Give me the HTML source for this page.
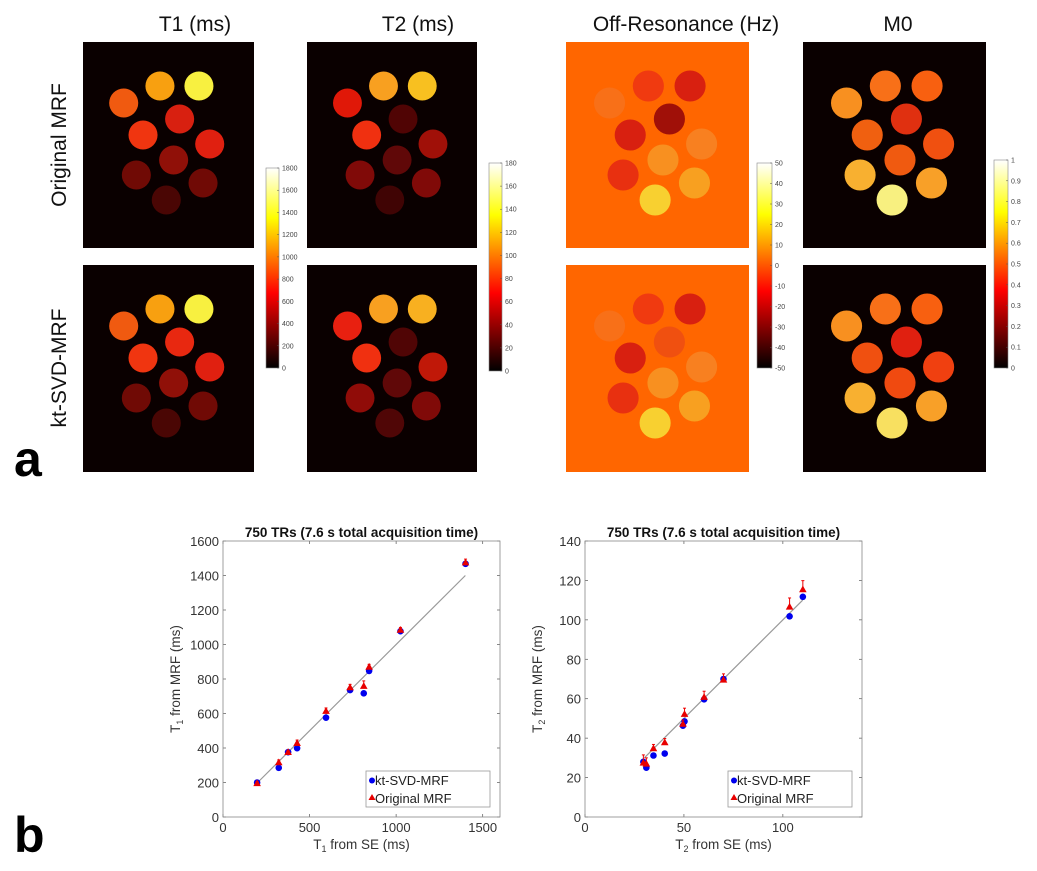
<!DOCTYPE html>
<html><head><meta charset="utf-8"><style>
body{margin:0;background:#fff;}
svg{display:block;font-family:"Liberation Sans",sans-serif;}
</style></head><body>
<svg id="fig" width="1037" height="871" viewBox="0 0 1037 871" xmlns="http://www.w3.org/2000/svg">
<defs>
<linearGradient id="hot" x1="0" y1="1" x2="0" y2="0">
<stop offset="0" stop-color="#000"/><stop offset="0.375" stop-color="#ff0000"/><stop offset="0.75" stop-color="#ffff00"/><stop offset="1" stop-color="#fff"/>
</linearGradient>
</defs>
<g font-size="21" fill="#111" text-anchor="middle">
<text x="195" y="31">T1 (ms)</text>
<text x="418" y="31">T2 (ms)</text>
<text x="686" y="31">Off-Resonance (Hz)</text>
<text x="898" y="31">M0</text>
<text transform="translate(66,145) rotate(-90)">Original MRF</text>
<text transform="translate(66,368) rotate(-90)">kt-SVD-MRF</text>
</g>
<text x="14" y="476" font-size="50" font-weight="bold" fill="#000">a</text>
<text x="14" y="852" font-size="50" font-weight="bold" fill="#000">b</text>
<g id="maps"></g>
<g id="plots"></g>
</svg>
<script>
// ---- parametric maps (phantom vials) ----
const vialFx=[.238,.45,.678,.565,.351,.741,.53,.312,.702,.487];
const vialFy=[61,44,44,77,93,102,118,133,141,158];
const t1Top=["#f05a10","#f8a010","#f8f040","#d82010","#f03510","#e02010","#901008","#700a05","#700a05","#4a0604"];
const t1Bot=["#f05a10","#f8a010","#f8f040","#e82810","#f03510","#e02010","#901008","#700a05","#700a05","#4a0604"];
const t2Top=["#e01808","#f8a020","#f8c020","#500404","#f03010","#a01008","#600808","#800a08","#800a08","#400404"];
const t2Bot=["#e82010","#f8a020","#f8b020","#500505","#f03010","#c01808","#600808","#900c08","#800a08","#500606"];
const offTop=["#f87018","#f03a10","#d82010","#a01008","#d82010","#f88020","#f89020","#e83010","#f8a020","#f8d030"];
const offBot=["#f87018","#f03a10","#d82010","#f05010","#d82010","#f88020","#f89020","#e83010","#f8a020","#f8d030"];
const m0Top=["#f89020","#f87018","#f86010","#e03010","#f06010","#f05010","#f05a10","#f8b030","#f8a028","#f8f080"];
const m0Bot=["#f89020","#f87018","#f86010","#e02010","#f05010","#f04010","#f04a10","#f8b030","#f8a028","#f8e060"];
const NS="http://www.w3.org/2000/svg";
function mk(tag,attrs,parent){const e=document.createElementNS(NS,tag);for(const k in attrs)e.setAttribute(k,attrs[k]);parent.appendChild(e);return e;}
const maps=document.getElementById('maps');
const panels=[
 {x:83,w:171,bg:"#0a0000",top:t1Top,bot:t1Bot,n:"t1"},
 {x:307,w:170,bg:"#0a0000",top:t2Top,bot:t2Bot,n:"t2"},
 {x:566,w:183,bg:"#ff6600",top:offTop,bot:offBot,n:"off-resonance"},
 {x:803,w:183,bg:"#0a0000",top:m0Top,bot:m0Bot,n:"m0"}];
const rows=[{y:42,h:206,k:"top",n:"original"},{y:265,h:207,k:"bot",n:"ktsvd"}];
panels.forEach(p=>{rows.forEach(r=>{
  const g=mk('g',{},maps);
  
  
  mk('rect',{x:p.x,y:r.y,width:p.w,height:r.h,fill:p.bg},g);
  const cols=p[r.k];
  vialFx.forEach((fx,i)=>{
    const c=mk('circle',{cx:p.x+fx*p.w,cy:r.y+vialFy[i],r:0.085*p.w,fill:cols[i]},g);
    
    
  });
});});
// colorbars
const t1Ticks=["0","200","400","600","800","1000","1200","1400","1600","1800"];
const t2Ticks=["0","20","40","60","80","100","120","140","160","180"];
const offTicks=["-50","-40","-30","-20","-10","0","10","20","30","40","50"];
const m0Ticks=["0","0.1","0.2","0.3","0.4","0.5","0.6","0.7","0.8","0.9","1"];
const bars=[{x:266,y:168,w:13,h:200,t:t1Ticks,n:"t1"},{x:489,y:163,w:13,h:208,t:t2Ticks,n:"t2"},{x:757,y:163,w:15,h:205,t:offTicks,n:"off-resonance"},{x:994,y:160,w:14,h:208,t:m0Ticks,n:"m0"}];
bars.forEach(b=>{
  const g=mk('g',{},maps);
  
  
  mk('rect',{x:b.x,y:b.y,width:b.w,height:b.h,fill:"url(#hot)",stroke:"#888","stroke-width":0.6},g);
  const n=b.t.length-1;
  b.t.forEach((lab,i)=>{
    const yy=b.y+b.h-(b.h*i/n);
    mk('line',{x1:b.x+b.w-2,x2:b.x+b.w,y1:yy,y2:yy,stroke:"#555","stroke-width":0.5},g);
    const tx=mk('text',{x:b.x+b.w+3,y:yy+2.5,"font-size":7,fill:"#444"},g);
    tx.textContent=lab;
  });
});

// ---- scatter plots ----
const t1SE=[197,322,376,428,595,734,813,844,1025,1401];
const t1Kt=[200,285,376,399,576,736,717,847,1077,1468];
const t1Orig=[195,316,376,428,614,751,759,870,1084,1475];
const t1Err=[10,15,10,18,18,18,30,15,15,20];
const t1XTicks=[0,500,1000,1500];
const t1YTicks=[0,200,400,600,800,1000,1200,1400,1600];
const t2SE=[29.5,31,34.6,40.3,49.5,50.3,60.2,70,103.4,110.1];
const t2Kt=[28,25,31.2,32.2,46.3,48.5,59.7,70,101.8,111.7];
const t2Orig=[27.5,27,34.8,37.8,47.2,52.2,60.8,69.6,106.6,115.4];
const t2Err=[4,3,2,2,2,3,3,3,4.5,4.5];
const t2XTicks=[0,50,100];
const t2YTicks=[0,20,40,60,80,100,120,140];
const plotsG=document.getElementById('plots');
function scatter(o){
  const g=mk('g',{},plotsG);
  
  
  const L=o.x0,T=541,W=277,H=276;
  const sx=v=>L+v/o.xmax*W, sy=v=>T+H-v/o.ymax*H;
  o.xt.forEach(v=>{
    mk('line',{x1:sx(v),x2:sx(v),y1:T+H,y2:T+H-3,stroke:"#555","stroke-width":0.7},g);
    mk('line',{x1:sx(v),x2:sx(v),y1:T,y2:T+3,stroke:"#555","stroke-width":0.7},g);
    const t=mk('text',{x:sx(v),y:T+H+15,"font-size":13,fill:"#333","text-anchor":"middle"},g);t.textContent=v;
  });
  o.yt.forEach(v=>{
    mk('line',{x1:L,x2:L+3,y1:sy(v),y2:sy(v),stroke:"#555","stroke-width":0.7},g);
    mk('line',{x1:L+W,x2:L+W-3,y1:sy(v),y2:sy(v),stroke:"#555","stroke-width":0.7},g);
    const t=mk('text',{x:L-4,y:sy(v)+5,"font-size":13,fill:"#333","text-anchor":"end"},g);t.textContent=v;
  });
  mk('rect',{x:L,y:T,width:W,height:H,fill:"none",stroke:"#888","stroke-width":0.8},g);
  const ln=mk('line',{x1:sx(o.l0),y1:sy(o.l0),x2:sx(o.l1),y2:sy(o.l1),stroke:"#999","stroke-width":1.2},g);
  
  
  o.se.forEach((xv,i)=>{
    const c=mk('circle',{cx:sx(xv),cy:sy(o.kt[i]),r:3.3,fill:"#0000ee"},g);
    
    
  });
  o.se.forEach((xv,i)=>{
    const X=sx(xv),Y=sy(o.orig[i]),Ye=sy(o.orig[i]+o.err[i]);
    mk('line',{x1:X,x2:X,y1:Y,y2:Ye,stroke:"#e00","stroke-width":1},g);
    mk('line',{x1:X-1.5,x2:X+1.5,y1:Ye,y2:Ye,stroke:"#e00","stroke-width":1},g);
    const p=mk('path',{d:`M${X},${Y-4}L${X+3.8},${Y+2.8}L${X-3.8},${Y+2.8}Z`,fill:"#e80000"},g);
    
    
  });
  const tt=mk('text',{x:L+W/2,y:T-4,"font-size":13.5,"font-weight":"bold",fill:"#111","text-anchor":"middle"},g);
  tt.textContent="750 TRs (7.6 s total acquisition time)";
  
  
  const xl=mk('text',{x:L+W/2,y:T+H+32,"font-size":13.5,fill:"#333","text-anchor":"middle"},g);
  xl.innerHTML=`T<tspan font-size="9" dy="3">${o.s}</tspan><tspan dy="-3"> from SE (ms)</tspan>`;
  
  
  const yl=mk('text',{transform:`translate(${L-43},${T+H/2}) rotate(-90)`,"font-size":13.5,fill:"#333","text-anchor":"middle"},g);
  yl.innerHTML=`T<tspan font-size="9" dy="3">${o.s}</tspan><tspan dy="-3"> from MRF (ms)</tspan>`;
  
  
  const lg=mk('g',{},g);
  
  
  const bx=L+o.lgx;
  mk('rect',{x:bx,y:771,width:124,height:36,fill:"#fff",stroke:"#999","stroke-width":0.8},lg);
  mk('circle',{cx:bx+6,cy:780.5,r:3,fill:"#0000ee"},lg);
  const a=mk('text',{x:bx+9,y:785,"font-size":13,fill:"#222"},lg);a.textContent="kt-SVD-MRF";
  mk('path',{d:`M${bx+6},${794}L${bx+9.5},${800}L${bx+2.5},${800}Z`,fill:"#e80000"},lg);
  const b=mk('text',{x:bx+9,y:803,"font-size":13,fill:"#222"},lg);b.textContent="Original MRF";
}
scatter({n:"t1",x0:223,xmax:1600,ymax:1600,xt:t1XTicks,yt:t1YTicks,se:t1SE,kt:t1Kt,orig:t1Orig,err:t1Err,l0:200,l1:1400,s:"1",lgx:143});
scatter({n:"t2",x0:585,xmax:140,ymax:140,xt:t2XTicks,yt:t2YTicks,se:t2SE,kt:t2Kt,orig:t2Orig,err:t2Err,l0:30,l1:110,s:"2",lgx:143});
</script>
</body></html>
